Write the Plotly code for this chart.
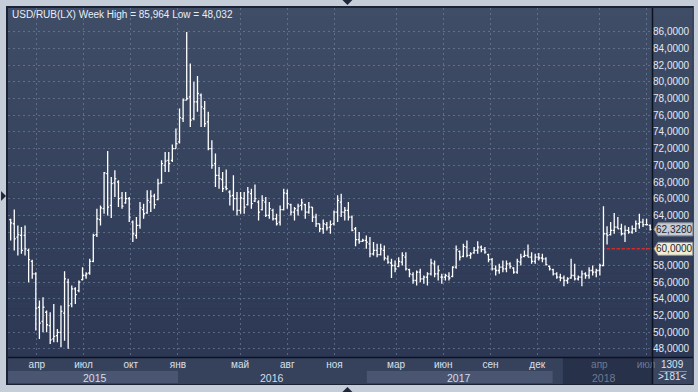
import plotly.graph_objects as go
import pandas as pd

# ---------------- data (weekly USD/RUB OHLC) ----------------
start_date = "2015-02-09"

open_ = [
    63.5, 63.0, 61.4, 61.6, 61.6, 59.8, 58.5, 57.0, 53.0, 51.3,
    52.4, 50.8, 49.2, 49.6, 50.0, 52.3, 56.0, 53.4, 55.2, 55.0,
    56.3, 56.8, 57.1, 58.5, 61.7, 63.5, 64.8, 69.0, 65.2, 67.9,
    68.0, 66.1, 65.5, 66.0, 63.2, 61.6, 62.8, 64.7, 64.3, 65.6,
    66.3, 65.9, 67.9, 70.0, 70.6, 70.6, 72.0, 72.8, 75.6, 77.8,
    78.2, 75.6, 77.6, 78.4, 76.8, 75.2, 72.0, 70.2, 68.8, 68.3,
    67.4, 66.8, 66.4, 66.0, 64.6, 66.0, 65.3, 66.6, 65.7, 65.6,
    64.7, 65.6, 64.0, 64.6, 63.6, 63.2, 64.7, 66.6, 65.3, 64.4,
    64.6, 65.2, 65.3, 64.4, 65.0, 63.8, 63.0, 62.4, 62.9, 62.6,
    63.0, 64.4, 65.6, 64.4, 64.6, 63.8, 62.4, 61.1, 60.9, 61.0,
    60.6, 59.4, 59.8, 59.3, 59.8, 58.8, 58.3, 58.0, 57.9, 58.4,
    59.0, 57.5, 56.9, 56.2, 57.2, 56.4, 56.6, 57.0, 58.2, 57.0,
    56.6, 56.6, 56.7, 56.7, 57.8, 59.7, 59.1, 60.2, 59.2, 59.5,
    59.8, 60.2, 59.9, 59.3, 58.7, 57.6, 57.4, 57.8, 57.6, 58.2,
    57.7, 57.2, 58.4, 59.1, 59.2, 59.0, 58.5, 59.0, 58.9, 58.8,
    57.9, 57.5, 57.0, 56.6, 56.5, 56.2, 56.5, 56.8, 56.4, 56.6,
    57.0, 56.8, 57.4, 57.2, 57.4, 58.0, 61.8, 61.7, 62.2, 62.6,
    62.4, 61.8, 62.2, 62.0, 62.4, 63.0, 63.2, 62.9, 62.8,
]
high = [
    63.6, 64.7, 62.8, 62.6, 62.8, 60.0, 58.7, 57.2, 53.8, 54.2,
    52.6, 52.4, 53.4, 50.4, 53.2, 57.3, 56.4, 55.6, 55.4, 56.2,
    57.8, 57.2, 58.8, 61.8, 64.8, 65.2, 69.2, 71.7, 68.6, 69.4,
    68.2, 66.8, 66.8, 66.2, 63.4, 63.8, 65.6, 65.4, 67.0, 67.0,
    66.6, 68.4, 70.6, 71.6, 71.6, 72.5, 74.4, 76.8, 78.0, 85.964,
    82.2, 80.0, 80.7, 78.6, 77.7, 76.4, 73.0, 71.4, 69.8, 69.2,
    69.5, 67.0, 68.8, 66.8, 66.8, 66.8, 67.4, 67.2, 67.7, 65.8,
    66.4, 66.2, 65.6, 64.8, 64.2, 65.2, 67.2, 67.1, 65.4, 65.0,
    65.4, 66.0, 65.4, 65.6, 65.0, 64.2, 63.0, 63.5, 63.2, 63.4,
    64.6, 66.4, 66.6, 65.0, 65.6, 64.0, 62.6, 62.0, 61.2, 61.6,
    61.4, 60.8, 60.6, 60.6, 60.4, 59.2, 58.8, 58.6, 59.0, 59.6,
    59.6, 57.6, 57.2, 57.4, 57.6, 56.8, 57.2, 58.8, 58.6, 58.0,
    57.0, 57.0, 57.2, 57.9, 60.4, 59.8, 60.6, 61.0, 59.6, 60.2,
    60.9, 60.4, 60.2, 59.4, 58.9, 58.0, 58.2, 58.6, 58.6, 58.4,
    57.8, 58.8, 59.4, 59.8, 60.5, 59.6, 59.4, 59.5, 59.4, 59.0,
    58.0, 57.6, 57.2, 57.0, 56.8, 56.6, 58.8, 58.2, 56.8, 57.4,
    57.2, 57.8, 58.0, 57.6, 58.2, 65.1, 62.7, 63.2, 64.3, 63.8,
    63.0, 62.8, 62.6, 62.8, 63.4, 64.2, 63.6, 63.6, 62.9,
]
low = [
    61.0, 59.8, 59.2, 59.4, 59.2, 56.0, 56.4, 50.2, 49.2, 50.0,
    50.0, 48.6, 48.8, 48.8, 48.2, 49.0, 48.032, 53.0, 53.4, 54.8,
    56.2, 56.4, 56.9, 58.4, 61.4, 62.8, 64.2, 64.0, 63.7, 66.2,
    65.0, 64.8, 65.4, 63.2, 60.8, 61.2, 62.4, 63.6, 64.2, 64.4,
    64.8, 65.8, 67.8, 69.2, 69.2, 70.4, 72.0, 72.6, 75.2, 77.8,
    74.6, 75.4, 76.4, 74.6, 74.6, 71.8, 69.6, 67.4, 67.2, 66.8,
    67.0, 65.2, 64.6, 64.0, 64.2, 64.2, 65.2, 64.8, 65.6, 63.4,
    64.6, 63.8, 63.6, 63.4, 62.8, 62.8, 64.6, 64.8, 64.0, 63.4,
    64.0, 64.6, 63.6, 64.2, 63.2, 62.6, 62.0, 61.8, 62.2, 61.8,
    62.8, 63.2, 63.8, 63.4, 63.4, 62.1, 60.3, 60.6, 60.8, 60.0,
    59.0, 59.2, 59.0, 59.2, 58.6, 58.2, 56.5, 57.2, 57.8, 58.0,
    57.4, 56.6, 55.8, 55.6, 56.0, 55.8, 55.6, 56.8, 56.6, 56.2,
    55.8, 56.2, 56.2, 56.6, 57.6, 58.6, 59.0, 59.0, 58.8, 59.4,
    59.4, 59.6, 59.4, 58.4, 57.4, 56.8, 57.0, 57.2, 57.2, 57.6,
    57.0, 57.0, 58.0, 59.0, 59.0, 58.2, 58.2, 58.6, 58.4, 58.0,
    57.4, 56.8, 56.4, 56.1, 55.5, 55.8, 56.4, 56.2, 56.2, 55.5,
    56.4, 56.4, 56.8, 56.6, 56.8, 57.9, 60.5, 61.6, 61.8, 62.4,
    61.6, 60.8, 61.8, 61.8, 62.0, 62.4, 62.6, 62.8, 62.2,
]
close = [
    63.1, 61.2, 61.7, 59.8, 60.0, 58.7, 57.0, 52.9, 51.1, 53.0,
    50.9, 49.1, 49.5, 50.0, 52.5, 56.4, 53.2, 55.2, 54.5, 56.0,
    56.8, 57.0, 58.5, 61.6, 63.6, 64.9, 69.1, 65.0, 67.8, 68.4,
    66.0, 65.1, 66.0, 63.8, 61.8, 62.8, 64.9, 64.2, 65.8, 66.3,
    65.3, 67.8, 70.2, 70.5, 70.2, 72.0, 72.6, 75.7, 77.8, 78.0,
    75.4, 77.6, 78.6, 77.0, 75.0, 72.0, 70.0, 68.8, 68.4, 67.2,
    67.2, 66.3, 66.0, 64.6, 66.1, 65.0, 66.8, 65.4, 66.0, 64.4,
    65.8, 64.0, 64.8, 63.6, 63.0, 64.7, 66.7, 65.4, 64.4, 64.8,
    65.1, 65.5, 64.4, 65.0, 63.8, 63.0, 62.4, 63.0, 62.5, 62.9,
    64.4, 65.8, 64.4, 64.6, 63.8, 62.2, 61.1, 60.9, 61.0, 60.8,
    59.4, 59.8, 59.3, 60.0, 58.9, 58.4, 58.0, 57.6, 58.5, 59.2,
    57.6, 57.0, 56.2, 57.2, 56.4, 56.6, 57.0, 58.3, 57.0, 57.4,
    56.6, 56.8, 56.5, 57.8, 59.9, 59.0, 60.3, 59.2, 59.4, 59.8,
    60.2, 59.9, 59.6, 58.7, 57.6, 57.4, 57.8, 57.6, 58.2, 57.9,
    57.2, 58.5, 59.0, 59.2, 59.0, 58.5, 59.0, 58.9, 58.8, 58.1,
    57.6, 57.0, 56.6, 56.5, 56.2, 56.4, 56.8, 56.4, 56.6, 57.0,
    56.8, 57.4, 57.2, 57.4, 58.0, 61.8, 61.6, 62.2, 62.6, 62.4,
    61.8, 62.2, 62.0, 62.4, 63.0, 63.2, 62.9, 62.9, 62.328,
]

month_ticks = ["2015-04-01", "2015-07-01", "2015-10-01", "2016-01-01", "2016-05-01",
               "2016-08-01", "2016-11-01", "2017-03-01", "2017-06-01", "2017-09-01",
               "2017-12-01", "2018-04-01", "2018-07-01"]
month_labels = ["апр", "июл", "окт", "янв", "май", "авг", "ноя", "мар", "июн", "сен",
                "дек", "апр", "июл"]
y_ticks = list(range(48, 88, 2))
y_labels = [f"{v},0000" for v in y_ticks]
years = ["2015", "2016", "2017", "2018"]
year_centers = ["2015-07-24", "2016-07-02", "2017-07-02", "2018-04-10"]
reference_level = 60.0
last_price = close[-1]
title_text = "USD/RUB(LX) Week High = 85,964 Low = 48,032"
corner_top = "1309"
corner_bottom = ">181<"

dates = pd.date_range(start_date, periods=len(close), freq="7D")

# ---------------- geometry / styling ----------------
W, H = 698, 392
L, R, T, B = 8, 655, 8, 357
Y_MIN, Y_MAX = 47.04, 88.84
X_RANGE = ["2015-02-03 19:00", "2018-07-12 14:00"]
FONT = "Liberation Sans, Arial, sans-serif"


def px(x):
    return (x - L) / (R - L)


def py(y):
    return (B - y) / (B - T)


def vy(v):  # value -> pixel y via the axis scale
    return B - (v - Y_MIN) / (Y_MAX - Y_MIN) * (B - T)


shapes = []


def rect(x0, y0, x1, y1, color, layer="below"):
    shapes.append(dict(type="rect", xref="paper", yref="paper",
                       x0=px(x0), x1=px(x1), y0=py(y1), y1=py(y0),
                       fillcolor=color, line=dict(width=0), layer=layer))


def poly(points, color, layer="above", line_color=None):
    path = "M " + " L ".join(f"{px(a)},{py(b)}" for a, b in points) + " Z"
    shapes.append(dict(type="path", xref="paper", yref="paper", path=path,
                       fillcolor=color,
                       line=dict(width=1 if line_color else 0, color=line_color or color),
                       layer=layer))


# dark panel
rect(6, 6, 697, 385, "#1b2233")
# vertical gradient of panel (stripes)
top_c = (64, 77, 102)
bot_c = (44, 56, 84)
n = 50
for i in range(n):
    y0 = T + (B - T) * i / n
    y1 = T + (B - T) * (i + 1) / n + 0.6
    f = (i + 0.5) / n
    c = tuple(round(top_c[k] + (bot_c[k] - top_c[k]) * f) for k in range(3))
    rect(8, y0, 696, y1, "rgb(%d,%d,%d)" % c)

# bottom time band
rect(8, 358, 655, 384, "#36425c")
shapes.append(dict(type="rect", xref="x", yref="paper", x0=X_RANGE[0], x1="2016-01-01",
                   y0=py(383), y1=py(371), fillcolor="#4a5671", line=dict(width=0), layer="below"))
shapes.append(dict(type="rect", xref="x", yref="paper", x0="2017-01-03", x1="2017-12-31",
                   y0=py(383), y1=py(371), fillcolor="#4a5671", line=dict(width=0), layer="below"))
shapes.append(dict(type="rect", xref="x", yref="paper", x0="2018-01-20", x1=X_RANGE[1],
                   y0=py(384), y1=py(358), fillcolor="#27314a", line=dict(width=0), layer="below"))
# corner cell
rect(656, 358, 696, 384, "#3a4660")
shapes.append(dict(type="line", xref="paper", yref="paper", x0=px(663), x1=px(690),
                   y0=py(371.5), y1=py(371.5), line=dict(color="#8390a8", width=1), layer="above"))

# black separators
shapes.append(dict(type="line", xref="paper", yref="paper", x0=px(8), x1=px(696),
                   y0=py(357.5), y1=py(357.5), line=dict(color="#0d1220", width=1.5), layer="above"))
shapes.append(dict(type="line", xref="paper", yref="paper", x0=px(655.5), x1=px(655.5),
                   y0=py(8), y1=py(384), line=dict(color="#0d1220", width=1.5), layer="above"))

# red dashed reference line
shapes.append(dict(type="line", xref="x", yref="y", x0="2018-04-15", x1=X_RANGE[1],
                   y0=reference_level, y1=reference_level,
                   line=dict(color="#e3231c", width=1.6, dash="3px,2px"), layer="above"))

# price tags on the right axis
for val, fill in [(last_price, "#c7cbd2"), (reference_level, "#f1edd3")]:
    yc = vy(val)
    poly([(657, yc), (661, yc - 6.5), (696, yc - 6.5), (696, yc + 6.5), (661, yc + 6.5)],
         fill, layer="above", line_color="#8a8f99")

# navigation triangles
poly([(344, 0), (354, 0), (349, 5)], "#1e2638")
poly([(344, 392), (354, 392), (349, 387)], "#1e2638")
poly([(1, 191), (1, 201), (6, 196)], "#1e2638")

annotations = [
    dict(text=title_text, xref="paper", yref="paper", x=px(10), y=py(15),
         xanchor="left", yanchor="middle", showarrow=False,
         font=dict(family=FONT, size=10, color="#e8eef8")),
    dict(text=corner_top, xref="paper", yref="paper", x=px(676), y=py(364),
         xanchor="center", yanchor="middle", showarrow=False,
         font=dict(family=FONT, size=10, color="#dce4f0")),
    dict(text=corner_bottom, xref="paper", yref="paper", x=px(676), y=py(376),
         xanchor="center", yanchor="middle", showarrow=False,
         font=dict(family=FONT, size=10, color="#dce4f0")),
]
for yr, xc in zip(years, year_centers):
    annotations.append(dict(text=yr, xref="x", yref="paper", x=xc, y=py(377.5),
                            xanchor="center", yanchor="middle", showarrow=False,
                            font=dict(family=FONT, size=10.5,
                                      color="#6f7a92" if yr == "2018" else "#d4dcea")))
for val in (last_price, reference_level):
    annotations.append(dict(text=f"{val:.4f}".replace(".", ","), xref="paper", yref="y",
                            x=px(677.5), y=val, xanchor="center", yanchor="middle",
                            showarrow=False, font=dict(family=FONT, size=10, color="#1f2533")))

# axis labels hidden behind the price tags are left blank (the tags show them)
tag_zone = [round(last_price), reference_level]
y_text = ["" if v in tag_zone else t for v, t in zip(y_ticks, y_labels)]

tick_text = [
    (f'<span style="color:#6f7a92">{t}</span>' if d.startswith("2018") else t)
    for d, t in zip(month_ticks, month_labels)
]

fig = go.Figure(go.Ohlc(
    x=dates, open=open_, high=high, low=low, close=close,
    increasing=dict(line=dict(color="#ffffff", width=1.3)),
    decreasing=dict(line=dict(color="#ffffff", width=1.3)),
    tickwidth=0.4, hoverinfo="skip", showlegend=False,
))

fig.update_layout(
    width=W, height=H,
    margin=dict(l=L, r=W - R, t=T, b=H - B, pad=0),
    paper_bgcolor="#c5cdd9",
    plot_bgcolor="rgba(0,0,0,0)",
    font=dict(family=FONT, size=10, color="#dce4f0"),
    shapes=shapes,
    annotations=annotations,
    showlegend=False,
    xaxis=dict(
        type="date", range=X_RANGE, rangeslider=dict(visible=False),
        tickvals=month_ticks, ticktext=tick_text, ticks="",
        showgrid=True, gridcolor="rgba(125,140,170,0.55)", griddash="2px,3px", gridwidth=1,
        zeroline=False, showline=False,
        tickfont=dict(family=FONT, size=10, color="#d8e0ec"),
        fixedrange=True,
    ),
    yaxis=dict(
        side="right", range=[Y_MIN, Y_MAX],
        tickvals=y_ticks, ticktext=y_text, ticks="",
        showgrid=True, gridcolor="rgba(125,140,170,0.55)", griddash="2px,3px", gridwidth=1,
        zeroline=False, showline=False,
        tickfont=dict(family=FONT, size=10, color="#e2e9f5"),
        fixedrange=True,
    ),
)

fig.write_html("out.html", config={"displayModeBar": False})
